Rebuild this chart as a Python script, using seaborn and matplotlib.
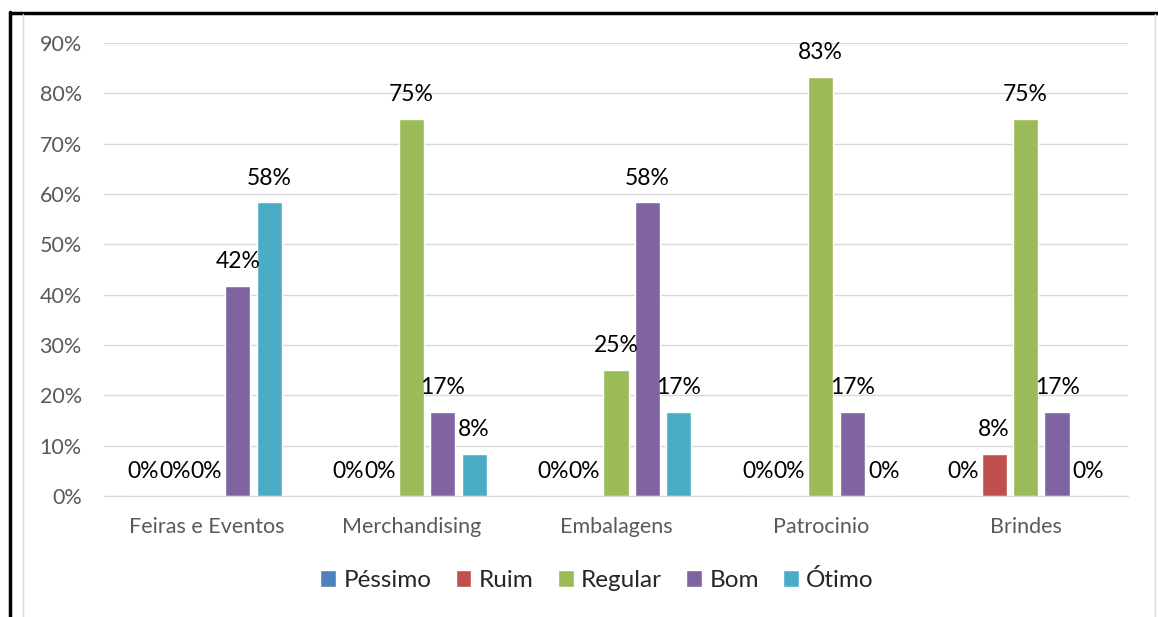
import pandas as pd
import matplotlib.pyplot as plt
import seaborn as sns
from matplotlib.lines import Line2D
from matplotlib.patches import Patch

sns.set_style("white")
plt.rcParams["font.family"] = ["Lato", "DejaVu Sans"]

categories = ["Feiras e Eventos", "Merchandising", "Embalagens", "Patrocinio", "Brindes"]
levels = ["Péssimo", "Ruim", "Regular", "Bom", "Ótimo"]
pessimo = [0, 0, 0, 0, 0]
ruim = [0, 0, 0, 0, 8.33]
regular = [0, 75, 25, 83.33, 75]
bom = [41.67, 16.67, 58.33, 16.67, 16.67]
otimo = [58.33, 8.33, 16.67, 0, 0]
colors = ["#4F81BD", "#C0504D", "#9BBB59", "#8064A2", "#4BACC6"]

rows = []
for level, vals in zip(levels, [pessimo, ruim, regular, bom, otimo]):
    for cat, v in zip(categories, vals):
        rows.append({"Categoria": cat, "Nivel": level, "Valor": v})
df = pd.DataFrame(rows)

fig = plt.figure(figsize=(11.58, 6.17), dpi=100)
ax = fig.add_axes([104 / 1158, 121 / 617, 1024 / 1158, 453 / 617])

sns.barplot(data=df, x="Categoria", y="Valor", hue="Nivel", order=categories,
            hue_order=levels, palette=colors, width=0.768, gap=0.2,
            saturation=1, legend=False, ax=ax)

for cont in ax.containers:
    ax.bar_label(cont, labels=[f"{round(b.get_height()):.0f}%" for b in cont],
                 padding=10, fontsize=16.5, color="black")

ax.set_xlim(-0.5, 4.5)
ax.set_ylim(0, 90)
ax.set_yticks(range(0, 91, 10))
ax.set_yticklabels([f"{t}%" for t in range(0, 91, 10)])
ax.yaxis.grid(True, color="#D9D9D9", linewidth=1)
ax.set_axisbelow(True)
ax.set_xlabel("")
ax.set_ylabel("")
for s in ["left", "right", "top"]:
    ax.spines[s].set_visible(False)
ax.spines["bottom"].set_color("#D9D9D9")
ax.tick_params(axis="both", length=0, labelsize=15.5, colors="#595959")
ax.tick_params(axis="y", pad=16)
ax.tick_params(axis="x", pad=15)

handles = [Patch(facecolor=c, label=l) for c, l in zip(colors, levels)]
fig.legend(handles=handles, loc="center", bbox_to_anchor=(597 / 1158, 1 - 580 / 617),
           ncol=5, frameon=False, fontsize=17.5, handlelength=0.65, handleheight=0.65,
           handletextpad=0.3, columnspacing=1.0)

# frame lines around the chart area
fig.add_artist(Line2D([10 / 1158, 10 / 1158], [0, 1 - 12 / 617], color="black", lw=2.5))
fig.add_artist(Line2D([10 / 1158, 1], [1 - 13 / 617, 1 - 13 / 617], color="black", lw=2.5))
fig.add_artist(Line2D([23 / 1158, 23 / 1158], [0, 1 - 14 / 617], color="#D9D9D9", lw=1))
fig.add_artist(Line2D([1155 / 1158, 1155 / 1158], [0, 1 - 14 / 617], color="#D9D9D9", lw=1))

fig.savefig("out.png", dpi=100)
